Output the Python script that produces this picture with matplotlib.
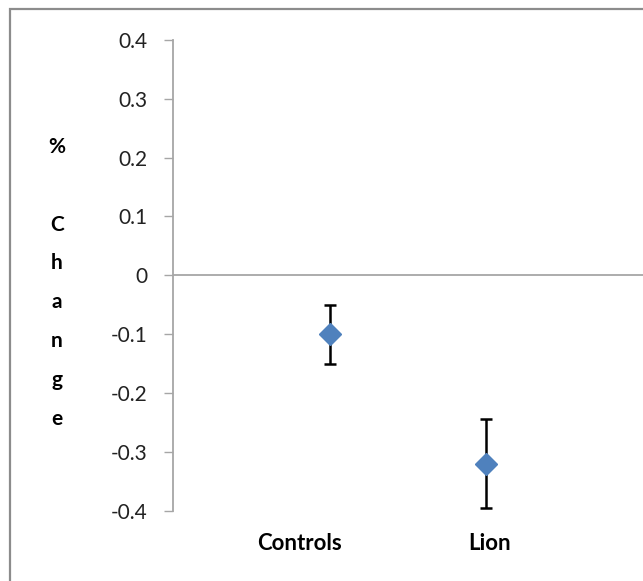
import matplotlib.pyplot as plt
from matplotlib.patches import Rectangle

# data
groups = ["Controls", "Lion"]
pct_change = [-0.10, -0.32]
err = [0.05, 0.075]
yticks = [-0.4, -0.3, -0.2, -0.1, 0, 0.1, 0.2, 0.3, 0.4]
ylabel_chars = ["%", ""] + list("Change")

plt.rcParams['font.family'] = ['Lato', 'DejaVu Sans']

fig = plt.figure(figsize=(6.43, 5.81), dpi=100)
ax = fig.add_axes([173 / 643, 70.4 / 581, 470 / 643, 470.6 / 581])

xpos = [1, 2]
ax.errorbar(xpos, pct_change, yerr=err, fmt='none', ecolor='black',
            elinewidth=1.8, capsize=4, capthick=1.8, zorder=2)
ax.plot(xpos, pct_change, linestyle='none', marker='D', markersize=11,
        color='#4F81BD', mec='#4F81BD', zorder=3)

ax.set_xlim(0, 3)
ax.set_ylim(-0.4, 0.4)
ax.set_yticks(yticks)
ax.set_yticklabels(["0" if v == 0 else f"{v:g}" for v in yticks])
ax.axhline(0, color='#A6A6A6', lw=1.3, zorder=1)

for s in ['top', 'right', 'bottom']:
    ax.spines[s].set_visible(False)
ax.spines['left'].set_color('#A6A6A6')
ax.spines['left'].set_linewidth(1.3)
ax.tick_params(axis='y', direction='out', length=6.5, width=1, color='#A6A6A6',
               pad=12, labelsize=15, labelcolor='#222222')
ax.set_xticks([])

# category labels under the axis (Controls sits a bit left of its point)
label_x = [0.81, 2.02]
for lx, g in zip(label_x, groups):
    ax.text(lx, -0.4 - 33 / 588.0, g, ha='center', va='center',
            fontsize=16, fontweight='bold', clip_on=False)

# stacked vertical y label
top = 147
for i, ch in enumerate(ylabel_chars):
    if ch:
        fig.text(57 / 643, 1 - (top + i * 38.8) / 581, ch, ha='center', va='center',
                 fontsize=15, fontweight='bold')

# outer chart border (only top and left visible in the crop)
fig.patches.append(Rectangle((10 / 643, -0.5), 2, 0.5 + (581 - 9) / 581,
                             transform=fig.transFigure, fill=False,
                             edgecolor='#8C8C8C', lw=1.6, clip_on=False))

fig.savefig("out.png", dpi=100)
